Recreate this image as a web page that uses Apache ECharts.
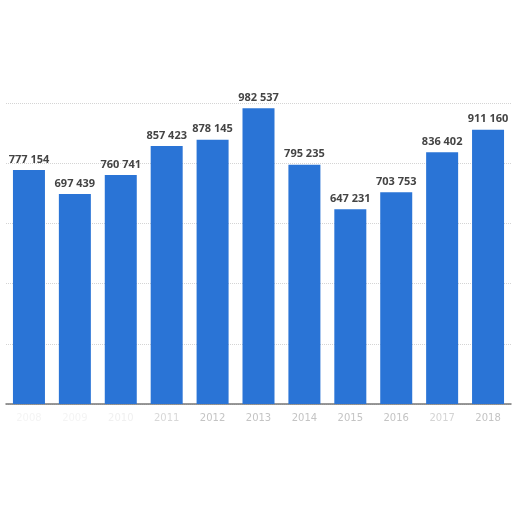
<!DOCTYPE html>
<html>
<head>
<meta charset="utf-8">
<script src="https://cdn.jsdelivr.net/npm/echarts@6/dist/echarts.min.js"></script>
<style>
html,body{margin:0;padding:0;background:#fff;}
#main{width:512px;height:512px;}
</style>
</head>
<body>
<div id="main"></div>
<script>
// years and values
var years = ['2008','2009','2010','2011','2012','2013','2014','2015','2016','2017','2018'];
var values = [777154, 697439, 760741, 857423, 878145, 982537, 795235, 647231, 703753, 836402, 911160];
var yearColors = ['#f4f4f4','#f4f4f4','#f0f0f0','#d8d8d8','#c4c4c4','#c4c4c4','#c4c4c4','#c4c4c4','#c4c4c4','#d4d4d4','#c4c4c4'];

var fmt = function(v){
    return String(v).replace(/\B(?=(\d{3})+(?!\d))/g, ' ');
};

var catData = [];
for(var i=0;i<years.length;i++){
    catData.push({value:years[i], textStyle:{color:yearColors[i]}});
}

var chart = echarts.init(document.getElementById('main'));
var option = {
    animation:false,
    grid:{left:6, right:1, top:103, bottom:108},
    xAxis:{
        type:'category',
        data:catData,
        axisLine:{lineStyle:{color:'#777', width:1.5}},
        axisTick:{show:false},
        axisLabel:{fontSize:10, margin:9, fontFamily:'DejaVu Sans'}
    },
    yAxis:{
        type:'value',
        min:0,
        max:1000000,
        interval:200000,
        axisLabel:{show:false},
        axisLine:{show:false},
        axisTick:{show:false},
        splitLine:{lineStyle:{color:'#d4d4d4', type:'dotted'}}
    },
    series:[{
        type:'bar',
        data:values,
        barWidth:32,
        itemStyle:{color:'#2a74d6'},
        label:{
            show:true,
            position:'top',
            distance:5,
            color:'#444',
            fontSize:11,
            fontWeight:'bold',
            fontFamily:'Open Sans',
            formatter:function(p){return fmt(p.value);}
        }
    }]
};
chart.setOption(option);
</script>
</body>
</html>
